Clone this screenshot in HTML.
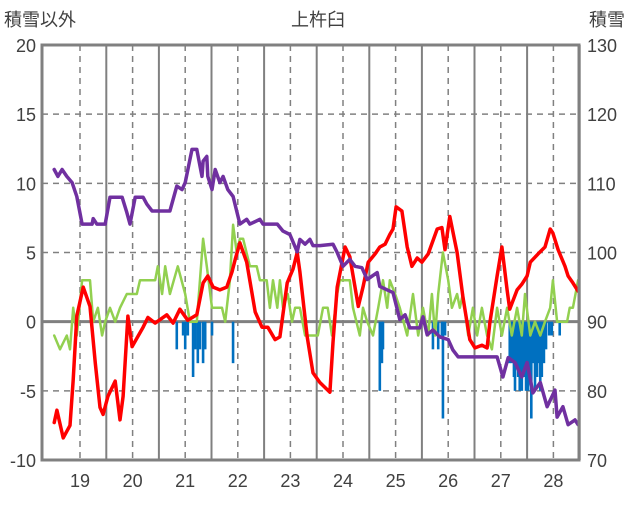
<!DOCTYPE html>
<html><head><meta charset="utf-8">
<style>
html,body{margin:0;padding:0;background:#fff;}
svg text{font-family:"Liberation Sans","Noto Sans CJK JP",sans-serif;fill:#404040;}
</style></head>
<body>
<svg id="chart" width="636" height="501" viewBox="0 0 636 501" xmlns="http://www.w3.org/2000/svg"></svg>
<script>
const xTicks=[19,20,21,22,23,24,25,26,27,28];
const leftTicks=[-10,-5,0,5,10,15,20];
const rightTicks=[70,80,90,100,110,120,130];
const redX=[18.51,18.56,18.68,18.81,18.87,18.94,19.06,19.19,19.29,19.38,19.44,19.53,19.67,19.76,19.82,19.91,19.99,20.20,20.29,20.43,20.65,20.77,20.90,21.05,21.22,21.34,21.43,21.53,21.66,21.79,21.89,21.95,22.04,22.17,22.33,22.46,22.57,22.71,22.80,22.94,23.05,23.13,23.18,23.32,23.43,23.56,23.75,23.81,23.89,24.04,24.13,24.29,24.38,24.48,24.61,24.70,24.80,24.89,24.95,25.01,25.12,25.22,25.31,25.41,25.50,25.62,25.79,25.88,25.94,26.03,26.17,26.28,26.41,26.51,26.64,26.74,26.79,26.93,27.02,27.12,27.17,27.31,27.40,27.50,27.56,27.71,27.84,27.94,27.99,28.09,28.22,28.28,28.37,28.47];
const redY=[-7.3,-6.4,-8.4,-7.5,-4.2,0.4,2.5,1.1,-3,-6.2,-6.7,-5.4,-4.3,-7.1,-5.4,0.4,-1.8,-0.4,0.3,-0.1,0.5,-0.1,0.9,0.1,0.5,2.8,3.3,2.5,2.3,2.5,3.6,4.5,5.7,4.3,0.7,-0.4,-0.4,-1.3,-1.1,2.8,3.8,5,3.6,-1.1,-3.7,-4.4,-5.1,-1.5,2.5,5.4,4.7,1.1,2.5,4.3,4.9,5.4,5.6,6.3,6.7,8.3,8,5.4,4,4.6,4.3,4.9,6.7,6.8,5.2,7.6,5,1.8,-1.3,-1.9,-1.7,-1.9,-0.1,3.3,5.4,2.3,0.9,2.3,2.7,3.3,4.3,4.9,5.4,6.7,6.4,5.2,4,3.3,2.8,2.2];
const purpleX=[18.51,18.58,18.66,18.75,18.85,18.94,19.04,19.23,19.25,19.32,19.48,19.57,19.80,19.89,19.95,20.05,20.20,20.27,20.37,20.71,20.84,20.94,21.00,21.13,21.22,21.32,21.34,21.41,21.43,21.51,21.57,21.66,21.72,21.81,21.91,22.04,22.17,22.23,22.42,22.48,22.75,22.86,22.99,23.13,23.18,23.28,23.37,23.43,23.56,23.81,23.89,24.00,24.13,24.23,24.36,24.46,24.65,24.70,24.84,24.95,25.08,25.18,25.27,25.46,25.52,25.60,25.71,25.84,26.00,26.09,26.19,26.93,27.04,27.14,27.27,27.40,27.50,27.61,27.75,27.88,28.03,28.07,28.18,28.28,28.41,28.47];
const purpleY=[112,111,112,111,110.1,108.1,104.1,104.1,104.9,104.1,104.1,108,108,105.8,104.1,108,108,107,106,106,109.6,109.1,110.1,114.9,114.9,111,113.2,113.9,111,109.1,112,110.1,111,109.1,108.1,104.1,104.8,104.1,104.8,104.1,104.1,103.1,102.6,100.1,101.9,101.2,101.9,101,101,101.2,100,98,99,98,97.8,96.1,97.1,95.1,94.6,94.2,90.3,91,89.1,89.1,90.7,88.1,88.8,87.8,87.4,85.9,84.9,84.9,82,84.8,84.1,82,84.1,79.7,81.2,77.7,80.1,76.2,77.7,75.1,75.8,75.1];
const greenX=[18.51,18.62,18.75,18.81,18.87,18.94,19.04,19.19,19.25,19.34,19.42,19.48,19.57,19.67,19.76,19.89,20.08,20.14,20.43,20.48,20.56,20.62,20.71,20.86,21.00,21.09,21.22,21.34,21.41,21.51,21.70,21.76,21.85,21.91,21.98,22.04,22.10,22.23,22.36,22.42,22.55,22.61,22.67,22.75,22.80,22.86,22.95,23.03,23.09,23.18,23.28,23.52,23.62,23.71,23.79,23.89,23.94,24.13,24.19,24.32,24.38,24.46,24.57,24.67,24.76,24.84,24.89,24.99,25.08,25.22,25.33,25.43,25.52,25.62,25.69,25.75,25.81,25.90,26.00,26.07,26.17,26.22,26.28,26.38,26.47,26.55,26.64,26.74,26.83,26.93,27.02,27.12,27.21,27.31,27.40,27.46,27.56,27.65,27.75,27.84,27.94,27.99,28.07,28.26,28.31,28.37,28.47];
const greenY=[-1,-2,-1,-2,1,-1,3,3,0,1,-1,0,1,0,1,2,2,3,3,4,2,4,2,4,2,0,0,6,4,1,1,0,3,7,5,6,6,4,4,3,3,1,3,1,3,1,2,0,1,1,-1,-1,1,1,-1,2,3,3,1,-1,1,0,-1,1,3,1,3,2,1,-1,2,-1,1,-1,2,-1,2,5,3,1,2,1,2,-1,1,-1,1,-1,-2,1,-1,1,-1,1,-1,2,-1,0,-1,0,1,3,0,0,1,1,3];
const barX=[20.84,20.96,21.00,21.05,21.15,21.19,21.24,21.28,21.34,21.38,21.51,21.91,24.70,24.74,24.76,25.71,25.81,25.88,25.90,25.94,27.17,27.21,27.25,27.27,27.29,27.33,27.36,27.40,27.44,27.48,27.52,27.55,27.58,27.61,27.65,27.69,27.73,27.75,27.78,27.82,27.86,27.92,27.97,28.12];
const barY=[-2,-1,-2,-1,-4,-2,-3,-2,-3,-2,-1,-3,-5,-3,-2,-2,-2,-1,-7,-1,-3,-3,-4,-5,-3,-4,-5,-5,-4,-5,-5,-4,-7,-3,-5,-4,-3,-5,-4,-3,-2,-1,-1,-1];

const L=42,R=579,T=45,B=460;
const xs=v=>80+(v-19)*52.6;
const yl=v=>T+(20-v)*(B-T)/30;
const yr=v=>T+(130-v)*(B-T)/60;
const svg=document.getElementById('chart');
const NS='http://www.w3.org/2000/svg';
function mk(tag,attrs,parent){const e=document.createElementNS(NS,tag);for(const k in attrs)e.setAttribute(k,attrs[k]);(parent||svg).appendChild(e);return e;}

// grid
for(const t of xTicks){
  const g=mk('line',{x1:xs(t),x2:xs(t),y1:T,y2:B,stroke:'#808080','stroke-width':1.5,'stroke-dasharray':'6,5'});
  
  
  const h=mk('line',{x1:xs(t+0.5),x2:xs(t+0.5),y1:T,y2:B,stroke:'#808080','stroke-width':2});
  
  
}
for(const t of leftTicks){
  if(t===20||t===-10)continue;
  const g=mk('line',{x1:L,x2:R,y1:yl(t),y2:yl(t),stroke:'#808080','stroke-width':t===0?3:1.5,'stroke-dasharray':t===0?'none':'6,5'});
  
  
}
// bars
for(let i=0;i<barX.length;i++){
  const b=mk('rect',{x:xs(barX[i])-1.3,y:yl(0),width:2.6,height:yl(barY[i])-yl(0),fill:'#0070c0'});
  
  
}
function line(X,Y,f,color,w,name){
  const d=X.map((x,i)=>(i?'L':'M')+xs(x).toFixed(1)+','+f(Y[i]).toFixed(1)).join(' ');
  const p=mk('path',{d:d,fill:'none',stroke:color,'stroke-width':w,'stroke-linejoin':'round','stroke-linecap':'round'});
  
  
}
line(greenX,greenY,yl,'#92d050',2.5,'green-series-line');
line(redX,redY,yl,'#ff0000',3.5,'temperature-line');
line(purpleX,purpleY,yr,'#7030a0',3.5,'snow-depth-line');
// frame
const fr=mk('rect',{x:L,y:T,width:R-L,height:B-T,fill:'none',stroke:'#808080','stroke-width':3});


// labels
function txt(s,x,y,anchor,name){const t=mk('text',{x:x,y:y,'text-anchor':anchor,'font-size':18});t.textContent=s;}
for(const t of leftTicks)txt(String(t),36,yl(t)+7,'end','left-tick-label');
for(const t of rightTicks)txt(String(t),587,yr(t)+7,'start','right-tick-label');
for(const t of xTicks)txt(String(t),xs(t),487,'middle','x-tick-label');
txt('上杵臼',318,26,'middle','chart-title');
txt('積雪以外',4,26,'start','left-axis-title');
txt('積雪',589,26,'start','right-axis-title');
</script>
</body></html>
